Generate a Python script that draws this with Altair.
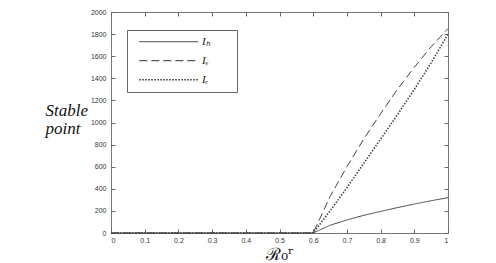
import altair as alt
import pandas as pd

# ---- data ----
x_vals = [0.0, 0.6, 0.65, 0.7, 0.75, 0.8, 0.85, 0.9, 0.95, 1.0]
i_h = [0, 0, 70, 118, 160, 195, 230, 262, 292, 320]
i_v = [0, 0, 330, 600, 850, 1080, 1300, 1500, 1685, 1850]
i_r = [0, 0, 200, 410, 630, 850, 1070, 1300, 1540, 1800]
series_names = ["Iₕ", "Iᵥ", "Iᵣ"]
x_ticks = [0, 0.1, 0.2, 0.3, 0.4, 0.5, 0.6, 0.7, 0.8, 0.9, 1]
y_ticks = [0, 200, 400, 600, 800, 1000, 1200, 1400, 1600, 1800, 2000]
x_title = "ℛ₀ʳ"
y_title = ["Stable", "point"]

rows = []
for name, ys in zip(series_names, [i_h, i_v, i_r]):
    for xv, yv in zip(x_vals, ys):
        rows.append({"x": xv, "y": yv, "series": name})
df = pd.DataFrame(rows)

xscale = alt.Scale(domain=[0, 1], nice=False, zero=False)
yscale = alt.Scale(domain=[0, 2000], nice=False)

lines = alt.Chart(df).mark_line(color="#444").encode(
    x=alt.X(
        "x:Q", scale=xscale,
        axis=alt.Axis(values=x_ticks, format="~g", orient="bottom", offset=-4,
                      tickSize=4, labelPadding=3, domain=False, grid=False,
                      title=x_title, titleFont="DejaVu Serif", titleFontSize=17,
                      titleFontWeight="normal", titleColor="#111",
                      titleBaseline="alphabetic", titleY=30.5),
    ),
    y=alt.Y(
        "y:Q", scale=yscale,
        axis=alt.Axis(values=y_ticks, format="d", orient="left", offset=-4,
                      tickSize=4, labelPadding=5, domain=False, grid=False,
                      title=y_title, titleAngle=0, titleAlign="left",
                      titleBaseline="alphabetic", titleX=-70, titleY=103,
                      titleFont="Liberation Serif", titleFontStyle="italic",
                      titleFontSize=17, titleFontWeight="normal",
                      titleLineHeight=18.5, titleColor="#111"),
    ),
    strokeDash=alt.StrokeDash(
        "series:N",
        scale=alt.Scale(domain=series_names, range=[[1, 0], [8, 4], [1.5, 1.5]]),
        legend=alt.Legend(
            orient="none", legendX=16, legendY=18,
            title="MM", titleOrient="right", titleColor="white",
            titleFont="Liberation Sans", titleFontSize=11, titlePadding=2.7,
            strokeColor="#666", fillColor="white", padding=5.7,
            symbolType="stroke", symbolSize=3481, symbolStrokeWidth=1.2,
            symbolStrokeColor="#333", symbolOffset=5.6, labelOffset=2.6,
            clipHeight=12, rowPadding=7,
            labelFont="Liberation Serif", labelFontStyle="italic",
            labelFontSize=11, labelColor="#111",
        ),
    ),
    strokeWidth=alt.StrokeWidth(
        "series:N",
        scale=alt.Scale(type="ordinal", domain=series_names, range=[1, 1, 1.6]),
        legend=None,
    ),
)

frame = alt.Chart(df).mark_point(opacity=0).encode(
    x=alt.X(
        "x:Q", scale=xscale,
        axis=alt.Axis(values=x_ticks, orient="top", offset=-4, tickSize=4,
                      labels=False, domain=False, grid=False, title=""),
    ),
    y=alt.Y(
        "y:Q", scale=yscale,
        axis=alt.Axis(values=y_ticks, orient="right", offset=-4, tickSize=4,
                      labels=False, domain=False, grid=False, title=""),
    ),
)

chart = (
    alt.layer(lines, frame)
    .resolve_axis(x="independent", y="independent")
    .properties(
        width=337, height=221,
        autosize=alt.AutoSizeParams(type="none"),
        padding={"left": 103, "top": 4, "right": 40, "bottom": 30},
    )
    .configure_view(stroke="#777", strokeWidth=1)
    .configure_axis(labelFont="Liberation Sans", labelFontSize=7,
                    labelColor="#333", tickColor="#666", tickWidth=1)
)

chart.save("out.html", embed_options={"renderer": "svg", "actions": False})
